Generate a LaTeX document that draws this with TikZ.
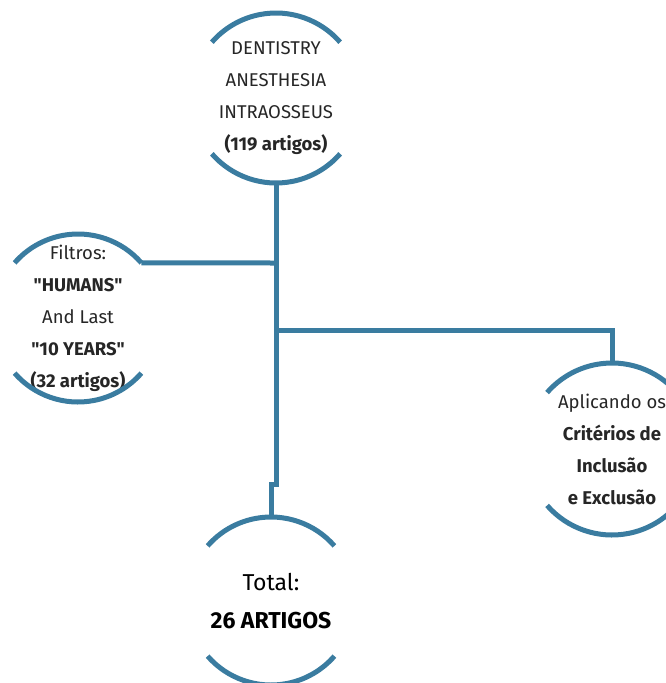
\documentclass[tikz,border=0pt]{standalone}
\usepackage{fontspec}
\setmainfont{Fira Sans}[Ligatures=TeXOff]
\usepackage{xcolor}
\definecolor{ringblue}{RGB}{58,124,160}
\tikzset{
  link/.style={line width=5pt,ringblue},
  ringtext/.style={align=center,font=\fontsize{18.5}{32}\selectfont,text=black!85}
}
% two open arcs round a named node
\newcommand\openring[2]{%
  \draw[link] ([shift={(41:#2)}]#1.center) arc[start angle=41,end angle=139,radius=#2];
  \draw[link] ([shift={(221:#2)}]#1.center) arc[start angle=221,end angle=319,radius=#2];
}

\begin{document}
\begin{tikzpicture}[x=1pt,y=1pt]
  \useasboundingbox (0,0) rectangle (666,-683);
  % the four stages
  \node[ringtext] (search) at (276,-98) {DENTISTRY\\ANESTHESIA\\INTRAOSSEUS\\\textbf{(119 artigos)}};
  \node[ringtext] (filter) at (78,-318) {Filtros:\\\textbf{"HUMANS"}\\And Last\\\textbf{"10 YEARS"}\\\textbf{(32 artigos)}};
  \node[ringtext] (criteria) at (612,-449) {Aplicando os\\\textbf{Critérios de}\\\textbf{Inclusão}\\\textbf{e Exclusão}};
  \node[align=center,font=\fontsize{23}{38}\selectfont] (total) at (271,-601) {Total:\\\textbf{\fontsize{23}{38}\selectfont 26 ARTIGOS}};
  \openring{search}{85pt}
  \openring{filter}{84pt}
  \openring{criteria}{86pt}
  \openring{total}{84pt}
  % the tree
  \coordinate (fork1) at (276,-263);
  \coordinate (fork2) at (276,-330);
  \coordinate (jog) at (276,-484);
  \coordinate (corner) at (612,-330);
  \draw[link] ([yshift=-85pt]search.center) -- (fork1) -- (fork2) -- (jog) -| ([yshift=84pt]total.center);
  \draw[link] ([shift={(41:84pt)}]filter.center) -- (fork1);
  \draw[link] (fork2) -- (corner) -- ([yshift=86pt]criteria.center);
\end{tikzpicture}
\end{document}
